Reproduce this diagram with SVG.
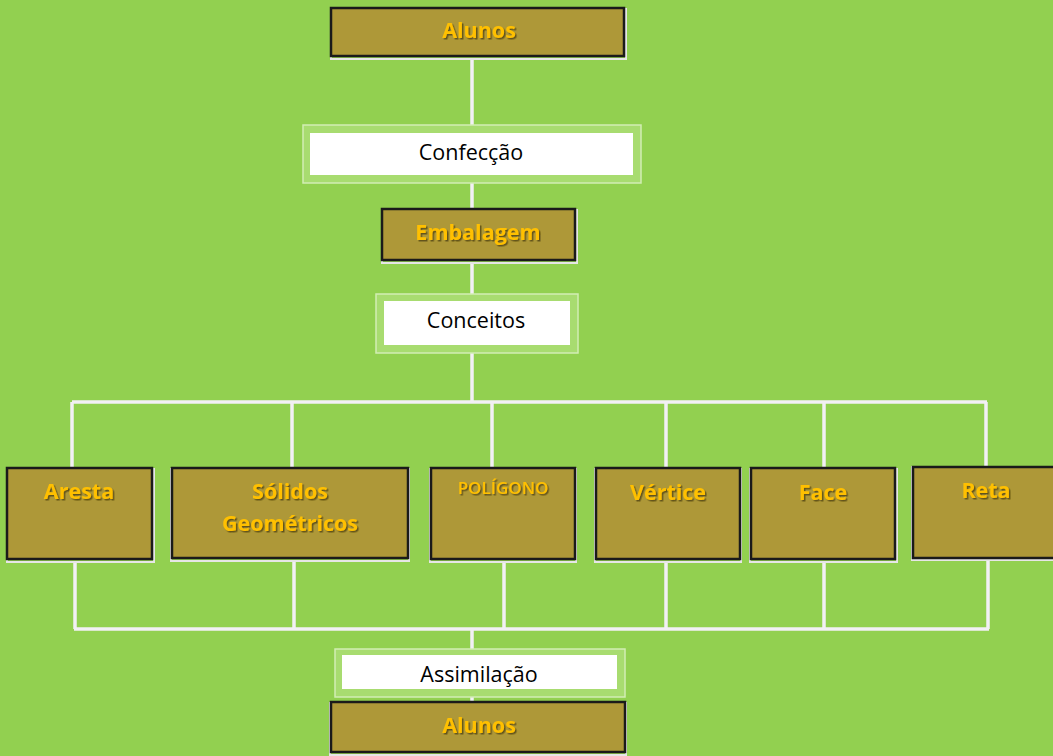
<svg xmlns="http://www.w3.org/2000/svg" width="1053" height="756" viewBox="0 0 1053 756">
<defs>
<filter id="sh" x="-10%" y="-20%" width="130%" height="150%">
<feDropShadow dx="1.5" dy="1.5" stdDeviation="0.6" flood-color="#4a3c08" flood-opacity="0.75"/>
</filter>
</defs>
<style>
.box{fill:#AE9838;stroke:#1a1a1a;stroke-width:2.5}
.edge{fill:none;stroke:#e6e6e6;stroke-width:2}
.frame{fill:#A8DC70;stroke:#D2EDB4;stroke-width:1.5}
.inner{fill:#ffffff}
.gt{font-family:"Open Sans","Liberation Sans",sans-serif;font-weight:bold;font-size:21.5px;fill:#FFC000;text-anchor:middle;filter:url(#sh)}
.bt{font-family:"Open Sans","Liberation Sans",sans-serif;font-size:21.5px;fill:#000;text-anchor:middle}
.ln{fill:none;stroke:#F2F0F5;stroke-width:3.5}
</style>
<rect x="0" y="0" width="1053" height="756" fill="#92D050"/>
<g id="connectors">
<path class="ln" d="M472 58 V125 M472 183 V209 M472 262 V294 M472 353 V402"/>
<path class="ln" d="M72 402 H987 M72 402 V468 M292 402 V468 M492 402 V468 M666 402 V468 M824 402 V468 M986 402 V467"/>
<path class="ln" d="M75 561 V629 M294 561 V629 M504 561 V629 M666 561 V629 M824 561 V629 M988 560 V629 M74 629 H989"/>
<path class="ln" d="M472 629 V649 M472 697 V702"/>
</g>
<g id="alunos-top">
<rect class="edge" x="331" y="9" width="295" height="50"/>
<rect class="box" x="331" y="8" width="293" height="48"/>
<text class="gt" x="479" y="38">Alunos</text>
</g>
<g id="confeccao">
<rect class="frame" x="303" y="125" width="338" height="58"/>
<rect class="inner" x="310" y="133" width="323" height="42"/>
<text class="bt" x="471" y="160">Confecção</text>
</g>
<g id="embalagem">
<rect class="edge" x="382" y="210" width="195" height="53"/>
<rect class="box" x="382" y="209" width="193" height="51"/>
<text class="gt" x="478" y="240">Embalagem</text>
</g>
<g id="conceitos">
<rect class="frame" x="376" y="294" width="202" height="59"/>
<rect class="inner" x="384" y="301" width="186" height="44"/>
<text class="bt" x="476" y="328">Conceitos</text>
</g>
<g id="aresta">
<rect class="edge" x="7" y="469" width="147" height="93"/>
<rect class="box" x="7" y="468" width="145" height="91"/>
<text class="gt" x="79" y="499">Aresta</text>
</g>
<g id="solidos">
<rect class="edge" x="171" y="469" width="238" height="92"/>
<rect class="box" x="172" y="468" width="236" height="90"/>
<text class="gt" x="290" y="499">Sólidos</text>
<text class="gt" x="290" y="531">Geométricos</text>
</g>
<g id="poligono">
<rect class="edge" x="430" y="469" width="146" height="93"/>
<rect class="box" x="431" y="468" width="144" height="91"/>
<text class="gt" x="503" y="494" style="font-size:17px;font-weight:600">POLÍGONO</text>
</g>
<g id="vertice">
<rect class="edge" x="595" y="469" width="146" height="93"/>
<rect class="box" x="596" y="468" width="144" height="91"/>
<text class="gt" x="668" y="500">Vértice</text>
</g>
<g id="face">
<rect class="edge" x="750" y="469" width="147" height="93"/>
<rect class="box" x="751" y="468" width="144" height="91"/>
<text class="gt" x="823" y="500">Face</text>
</g>
<g id="reta">
<rect class="edge" x="912" y="467" width="145" height="93"/>
<rect class="box" x="913" y="467" width="145" height="91"/>
<text class="gt" x="986" y="498">Reta</text>
</g>
<g id="assimilacao">
<rect class="frame" x="335" y="649" width="290" height="48"/>
<rect class="inner" x="342" y="655" width="275" height="34"/>
<text class="bt" x="479" y="682">Assimilação</text>
</g>
<g id="alunos-bottom">
<rect class="edge" x="330" y="703" width="296" height="52"/>
<rect class="box" x="331" y="702" width="294" height="50"/>
<text class="gt" x="479" y="733">Alunos</text>
</g>
</svg>
